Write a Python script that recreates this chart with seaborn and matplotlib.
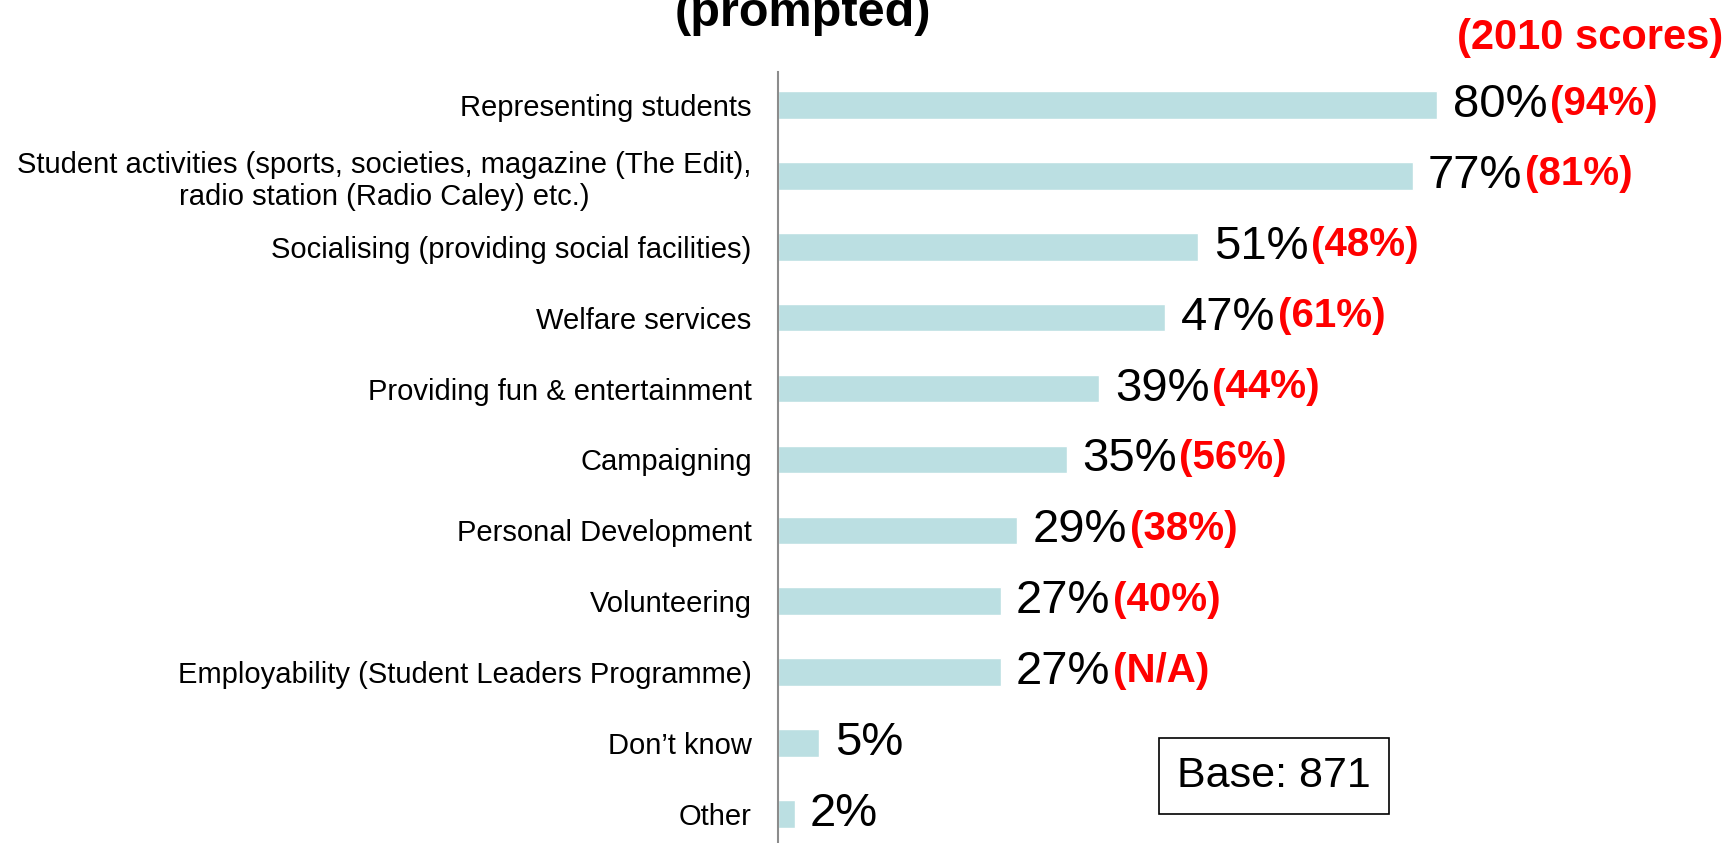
import matplotlib.pyplot as plt
import seaborn as sns
import pandas as pd

# Data
categories = [
    'Representing students',
    'Student activities (sports, societies, magazine (The Edit),\nradio station (Radio Caley) etc.)',
    'Socialising (providing social facilities)',
    'Welfare services',
    'Providing fun & entertainment',
    'Campaigning',
    'Personal Development',
    'Volunteering',
    'Employability (Student Leaders Programme)',
    'Don\u2019t know',
    'Other',
]
scores = [80, 77, 51, 47, 39, 35, 29, 27, 27, 5, 2]
scores_2010 = ['(94%)', '(81%)', '(48%)', '(61%)', '(44%)', '(56%)', '(38%)', '(40%)', '(N/A)', '', '']

df = pd.DataFrame({'category': categories, 'score': scores})

sns.set_style('white')
plt.rcParams['font.family'] = ['Liberation Sans', 'DejaVu Sans']
plt.rcParams['text.color'] = 'black'
plt.rcParams['ytick.color'] = 'black'

fig = plt.figure(figsize=(17.33, 8.43), dpi=100)
ax = fig.add_axes([0.449, 0.0, 0.4755, 0.9146])

sns.barplot(data=df, x='score', y='category', orient='h', color='#BBDFE2',
            saturation=1, width=0.39, ax=ax)

ax.set_xlim(0, 100)
ax.set_ylim(10.41, -0.465)
ax.set_xticks([])
ax.set_xlabel('')
ax.set_ylabel('')
ax.tick_params(axis='y', length=0, pad=19, labelsize=21, labelcolor='black')
for lbl in ax.get_yticklabels():
    lbl.set_multialignment('center')
for s in ['top', 'right', 'bottom']:
    ax.spines[s].set_visible(False)
ax.spines['left'].set_color('#8c8c8c')
ax.spines['left'].set_linewidth(1.5)

# value labels + 2010 scores in red
for i, (v, r) in enumerate(zip(scores, scores_2010)):
    t = ax.annotate(f'{v}%', xy=(v, i), xytext=(11, 0), textcoords='offset points',
                    va='center', ha='left', fontsize=34, color='black')
    if r:
        ax.annotate(r, xy=(1, 0.5), xycoords=t, xytext=(2, 1), textcoords='offset points',
                    va='center', ha='left', fontsize=29, color='red', fontweight='bold')

fig.text(0.4634, 0.969, '(prompted)', ha='center', va='baseline',
         fontsize=35, fontweight='bold', color='black')
fig.text(0.9177, 0.942, '(2010 scores)', ha='center', va='baseline',
         fontsize=30, fontweight='bold', color='red')
fig.text(0.7351, 0.0795, 'Base: 871', ha='center', va='center', fontsize=31, color='black',
         bbox=dict(boxstyle='square,pad=0.42', facecolor='white', edgecolor='black', linewidth=1.2))

plt.savefig('out.png', dpi=100)
plt.close()
